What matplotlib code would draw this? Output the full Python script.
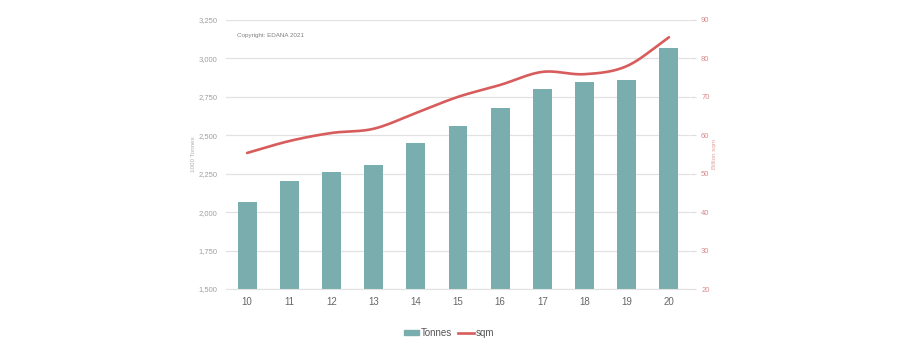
import matplotlib
matplotlib.use("Agg")
import matplotlib.pyplot as plt
import numpy as np
from matplotlib.lines import Line2D
from matplotlib.patches import Patch

plt.rcParams['font.family'] = ['Liberation Sans', 'DejaVu Sans']

years = ["10", "11", "12", "13", "14", "15", "16", "17", "18", "19", "20"]
tonnes = [2066, 2203, 2262, 2307, 2450, 2561, 2678, 2802, 2848, 2861, 3069]
sqm = [55.4, 58.5, 60.6, 61.7, 65.8, 70.0, 73.1, 76.5, 75.9, 78.0, 85.5]

left_ticks = [1500, 1750, 2000, 2250, 2500, 2750, 3000, 3250]
right_ticks = [20, 30, 40, 50, 60, 70, 80, 90]

bar_color = "#7aaeae"
line_color = "#d85c5c"

fig = plt.figure(figsize=(8.99, 3.47), dpi=100)
ax = fig.add_axes([226/899, 1-289/347, 464/899, 269/347])
ax2 = ax.twinx()

x = np.arange(len(years))
ax.bar(x, tonnes, width=0.45, color=bar_color, zorder=2)
ax.set_ylim(1500, 3250)
ax.set_xlim(-0.5, len(years)-0.5)
ax.set_yticks(left_ticks)
ax.set_yticklabels([f"{v:,}" for v in left_ticks])
ax.grid(axis='y', color='#e2e2e2', linewidth=0.9, zorder=0)
ax.set_axisbelow(True)
ax.set_xticks(x)
ax.set_xticklabels(years)
ax.tick_params(axis='x', length=0, labelsize=7, colors='#666666', pad=6)
ax.tick_params(axis='y', length=0, labelsize=5.5, colors='#a0a0a0', pad=6)
for s in ax.spines.values():
    s.set_visible(False)
ax.spines['bottom'].set_visible(True)
ax.spines['bottom'].set_color('#e2e2e2')
ax.set_ylabel("1000 Tonnes", fontsize=4.5, color='#b0b0b0', labelpad=2)

# smooth curve (Catmull-Rom) through data points
def catmull(xs, ys, n=20):
    xs = np.asarray(xs, float); ys = np.asarray(ys, float)
    px = np.concatenate([[2*xs[0]-xs[1]], xs, [2*xs[-1]-xs[-2]]])
    py = np.concatenate([[2*ys[0]-ys[1]], ys, [2*ys[-1]-ys[-2]]])
    ox, oy = [], []
    for i in range(1, len(px)-2):
        t = np.linspace(0, 1, n, endpoint=False)
        for arr, out in ((px, ox), (py, oy)):
            p0, p1, p2, p3 = arr[i-1], arr[i], arr[i+1], arr[i+2]
            out.extend(0.5*((2*p1) + (-p0+p2)*t + (2*p0-5*p1+4*p2-p3)*t**2 + (-p0+3*p1-3*p2+p3)*t**3))
    ox.append(xs[-1]); oy.append(ys[-1])
    return np.array(ox), np.array(oy)

cx, cy = catmull(x, sqm)
ax2.plot(cx, cy, color=line_color, linewidth=1.9, zorder=3, solid_capstyle='round')
ax2.set_ylim(20, 90)
ax2.set_yticks(right_ticks)
ax2.tick_params(axis='y', length=4, width=0.8, color='#dddddd', labelsize=5.5,
                labelcolor='#d98a8a', pad=4)
for s in ax2.spines.values():
    s.set_visible(False)
ax2.set_ylabel("Billion sqm", fontsize=4.5, color='#e0a0a0', labelpad=2)

fig.text(237/899, 1-36/347, "Copyright: EDANA 2021", fontsize=4.5, color='#808080',
         va='center', ha='left')

handles = [Patch(color=bar_color), Line2D([0], [0], color=line_color, linewidth=1.9)]
fig.legend(handles, ["Tonnes", "sqm"], loc='center', bbox_to_anchor=(449/899, 1-333/347),
           ncol=2, frameon=False, fontsize=7, handlelength=1.6, handleheight=0.5,
           handletextpad=0.2, columnspacing=0.6, labelcolor='#555555')

fig.savefig("out.png", dpi=100)
